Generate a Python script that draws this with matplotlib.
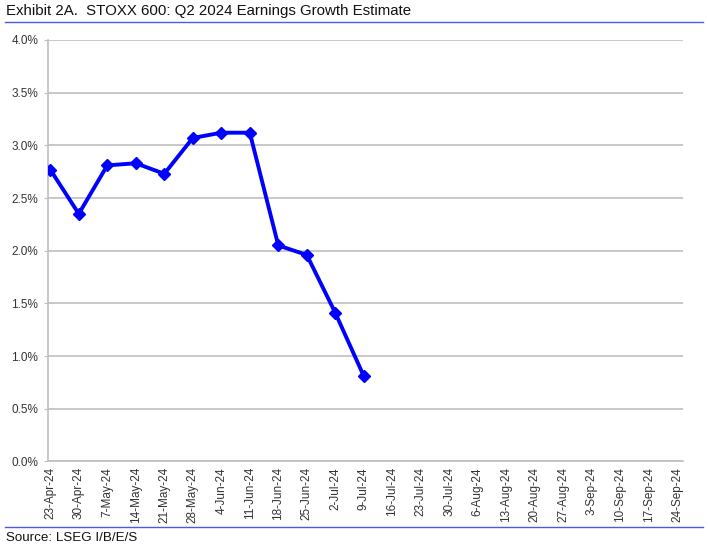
import numpy as np
import matplotlib
matplotlib.use('Agg')
import matplotlib.pyplot as plt
from matplotlib.lines import Line2D

plt.rcParams['font.family'] = ['Liberation Sans', 'DejaVu Sans']

# 週ごとの日付ラベル
dates = ['23-Apr-24', '30-Apr-24', '7-May-24', '14-May-24', '21-May-24', '28-May-24',
         '4-Jun-24', '11-Jun-24', '18-Jun-24', '25-Jun-24', '2-Jul-24', '9-Jul-24',
         '16-Jul-24', '23-Jul-24', '30-Jul-24', '6-Aug-24', '13-Aug-24', '20-Aug-24',
         '27-Aug-24', '3-Sep-24', '10-Sep-24', '17-Sep-24', '24-Sep-24']
# 成長率予想 (%)
growth = [2.77, 2.35, 2.81, 2.83, 2.73, 3.07, 3.12, 3.12, 2.05, 1.96, 1.41, 0.81]
y_ticks = [0.0, 0.5, 1.0, 1.5, 2.0, 2.5, 3.0, 3.5, 4.0]

fig = plt.figure(figsize=(7.08, 5.5), dpi=100)
ax = fig.add_axes([0.0678, 0.161, 0.8969, 0.7663])

x = np.arange(len(growth))
ax.plot(x, growth, color='#0000FF', lw=2.8, marker='D', ms=6, zorder=3)

ax.set_xlim(-0.08, 22.2)
ax.set_ylim(0, 4.0)
ax.set_yticks(y_ticks)
ax.set_yticklabels([f'{v:.1f}%' for v in y_ticks], fontsize=8.5, color='#333333')
ax.set_xticks(np.arange(len(dates)))
ax.set_xticklabels(dates, rotation=90, fontsize=8.5, color='#333333')
ax.tick_params(axis='y', length=3, color='#BFBFBF', pad=4)
ax.tick_params(axis='x', length=0, pad=4)
ax.grid(axis='y', color='#BFBFBF', lw=1.2)
ax.set_axisbelow(True)
for s in ['top', 'right']:
    ax.spines[s].set_visible(False)
for s in ['left', 'bottom']:
    ax.spines[s].set_color('#BFBFBF')
    ax.spines[s].set_linewidth(1.2)

fig.text(6 / 708, 1 - 11 / 550, 'Exhibit 2A.  STOXX 600: Q2 2024 Earnings Growth Estimate',
         fontsize=10.8, va='center', ha='left', color='#111111')
fig.add_artist(Line2D([5 / 708, 703 / 708], [1 - 22 / 550, 1 - 22 / 550],
                      color='#4A5BE0', lw=1.0))
fig.add_artist(Line2D([5 / 708, 703 / 708], [1 - 527 / 550, 1 - 527 / 550],
                      color='#4A5BE0', lw=1.0))
fig.text(6 / 708, 1 - 538 / 550, 'Source: LSEG I/B/E/S', fontsize=9.6,
         va='center', ha='left', color='#111111')

fig.savefig('out.png', dpi=100)
